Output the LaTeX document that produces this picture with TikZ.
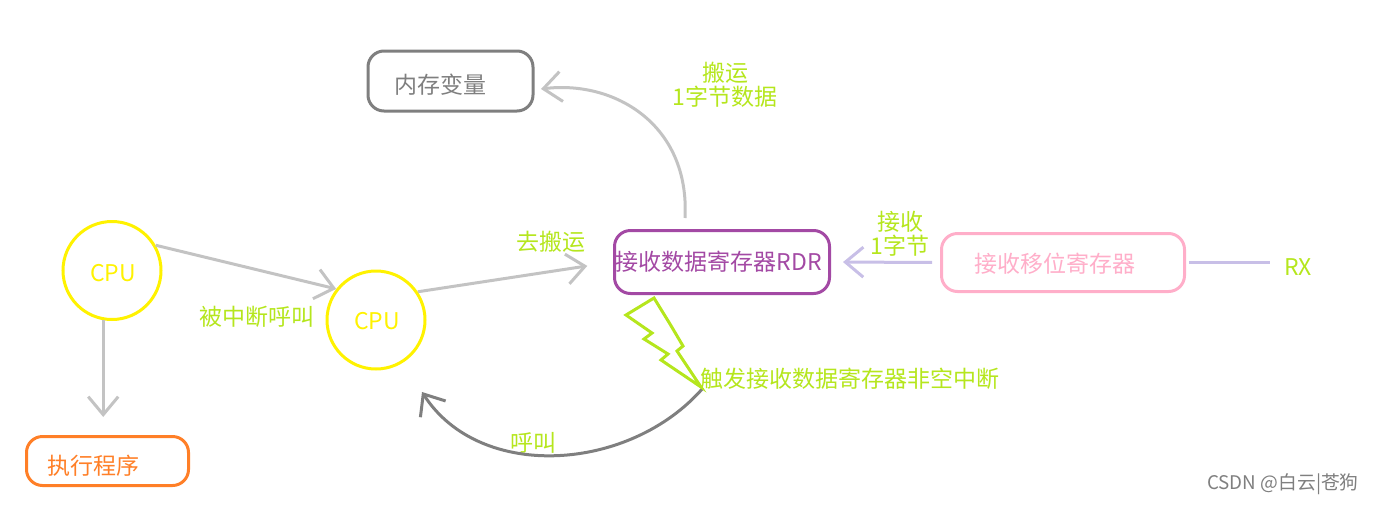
\documentclass[tikz,border=0pt]{standalone}
\usepackage{fontspec}
\setmainfont{Noto Sans CJK SC}
\usetikzlibrary{arrows.meta}
\definecolor{limetxt}{HTML}{B5E61D}
\definecolor{cpuyellow}{HTML}{FFF200}
\definecolor{rdrpurple}{HTML}{A349A4}
\definecolor{shiftpink}{HTML}{FFAEC9}
\definecolor{runorange}{HTML}{FF7F27}
\definecolor{darkgrey}{HTML}{7F7F7F}
\definecolor{lightgrey}{HTML}{C3C3C3}
\definecolor{lavender}{HTML}{C8BFE7}
\tikzset{
  txt/.style = {inner sep=0pt, font=\fontsize{23}{25}\selectfont, text=limetxt},
  regbox/.style = {draw, line width=3pt, rounded corners=16pt},
  cpu/.style = {circle, draw=cpuyellow, line width=3pt, minimum size=98pt, inner sep=0pt},
  arr/.style = {line width=3pt, -{Straight Barb[length=18pt,width=30pt,line width=3pt]}},
}
\begin{document}
\begin{tikzpicture}[x=1pt, y=-1pt]
\useasboundingbox (0,0) rectangle (1373,504);
% boxes
\node[regbox, draw=darkgrey, minimum width=165pt, minimum height=60pt] (mem) at (450.5,81) {};
\node[regbox, draw=rdrpurple, minimum width=215pt, minimum height=63pt] (rdr) at (722,262) {};
\node[regbox, draw=shiftpink, minimum width=243pt, minimum height=58pt] (shift) at (1063,262.5) {};
\node[regbox, draw=runorange, minimum width=162pt, minimum height=49pt] (run) at (107.5,461) {};
\node[cpu] (cpua) at (112,270.5) {};
\node[cpu] (cpub) at (376,320) {};
\coordinate (rdrout) at (685,218);
\coordinate (memin) at (541,89);
\coordinate (bolttip) at (703,388);
\coordinate (callin) at (422,392);
% box labels
\node[txt, text=darkgrey] (memtxt) at (440,85) {内存变量};
\node[txt, text=rdrpurple] (rdrtxt) at (719,262) {接收数据寄存器RDR};
\node[txt, text=shiftpink] (shifttxt) at (1055,264) {接收移位寄存器};
\node[txt, text=runorange] (runtxt) at (93,466) {执行程序};
\node[txt, text=cpuyellow] (cpuatxt) at (113,273) {CPU};
\node[txt, text=cpuyellow] (cpubtxt) at (377,321) {CPU};
% green labels
\node[txt, align=center] (carry) at (725,85) {搬运\\[-1pt]1字节数据};
\node[txt] (go) at (551,242) {去搬运};
\node[txt, align=center] (recv) at (900,234) {接收\\[-1pt]1字节};
\node[txt] (rx) at (1298,267) {RX};
\node[txt] (called) at (257,317) {被中断呼叫};
\node[txt] (trigger) at (850,379) {触发接收数据寄存器非空中断};
\node[txt] (call) at (533,443) {呼叫};
\node[inner sep=0pt, font=\fontsize{18.8}{20}\selectfont, text=darkgrey] (mark) at (1283,484) {CSDN @白云|苍狗};
% arrows
\draw[arr, lightgrey] (cpua.30) -- (cpub.142);
\draw[arr, lightgrey] (cpub.34) -- (rdr.west) [shorten >=26pt];
\draw[arr, lightgrey] (cpua.260) -- (cpua.260 |- run.north) [shorten >=18pt];
\draw[arr, lightgrey] (rdrout) .. controls (690,125) and (615,80) .. (memin);
\draw[arr, lavender] (shift.west) -- (rdr.east) [shorten <=8pt, shorten >=12pt];
\draw[line width=3pt, lavender] (shift.east) -- (shift.east -| rx.west) [shorten <=3pt, shorten >=14pt];
\draw[arr, darkgrey] (bolttip) .. controls (630,472) and (480,482) .. (callin);
% lightning
\draw[line width=3pt, limetxt, line join=miter] (654,298) -- (626,315) -- (652,333) -- (644,339) -- (668,354) -- (661,360) -- (701,387) -- (677,351) -- (683,346) -- (670,324) -- cycle;
\end{tikzpicture}
\end{document}
